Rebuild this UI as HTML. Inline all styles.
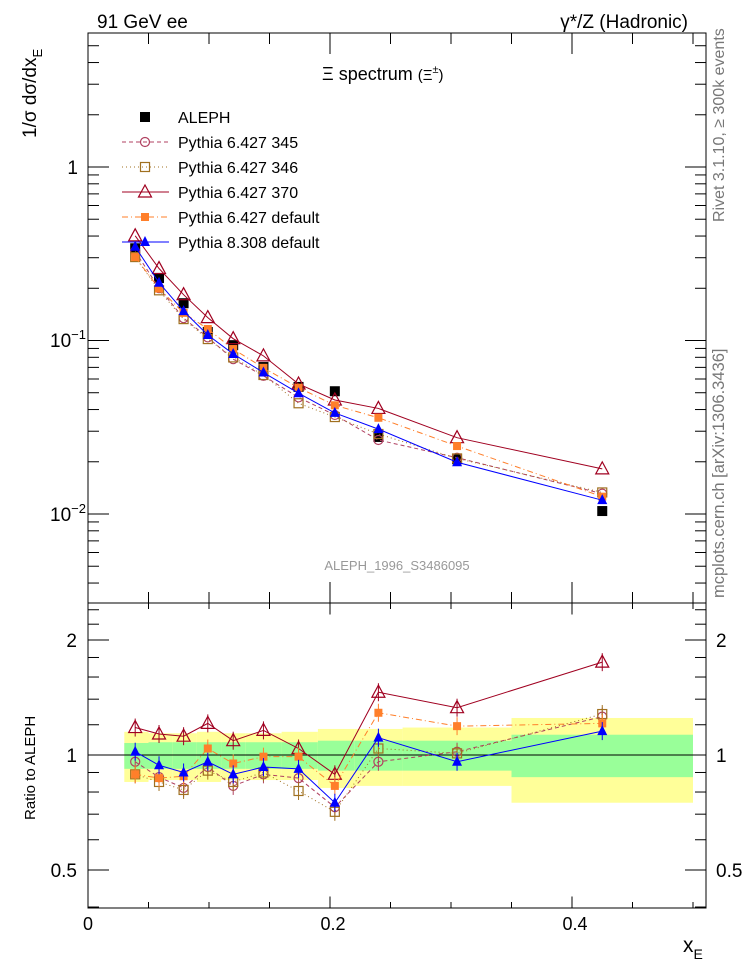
<!DOCTYPE html>
<html><head><meta charset="utf-8"><style>
html,body{margin:0;padding:0;background:#fff;}
svg{display:block;font-family:"Liberation Sans",sans-serif;}
</style></head><body>
<svg id="chart" width="746" height="972" viewBox="0 0 746 972" xmlns="http://www.w3.org/2000/svg">
<g id="bands"></g>
<g id="frames"></g>
<g id="ticks"></g>
<g id="series"></g>
<g id="labels">
<text x="97" y="28" font-size="19">91 GeV ee</text>
<text x="688" y="28" font-size="19" text-anchor="end">γ*/Z (Hadronic)</text>
<text x="322" y="80" font-size="18">Ξ spectrum <tspan font-size="15">(Ξ</tspan><tspan font-size="11" dy="-7">±</tspan><tspan font-size="15" dy="7">)</tspan></text>
<text x="397" y="570" font-size="13" fill="#999" text-anchor="middle">ALEPH_1996_S3486095</text>
<text transform="translate(36,138) rotate(-90)" font-size="19">1/σ dσ/dx<tspan font-size="13" dy="6">E</tspan></text>
<text transform="translate(35,820) rotate(-90)" font-size="15">Ratio to ALEPH</text>
<text x="683" y="952" font-size="21">x<tspan font-size="14" dy="7">E</tspan></text>
<text transform="translate(724,222) rotate(-90)" font-size="16" fill="#777">Rivet 3.1.10, ≥ 300k events</text>
<text transform="translate(724,598) rotate(-90)" font-size="16.5" fill="#777">mcplots.cern.ch [arXiv:1306.3436]</text>
</g>
<g id="legend"></g>
</svg>
<script>
const xs = [0.039,0.0587,0.079,0.099,0.12,0.145,0.174,0.204,0.24,0.305,0.425];
const binEdges = [0.03,0.05,0.07,0.09,0.11,0.13,0.16,0.19,0.22,0.26,0.35,0.5];
const aleph = [0.34,0.229,0.164,0.112,0.094,0.0703,0.054,0.051,0.0278,0.0207,0.0104];
const yellowLo = [0.85,0.86,0.86,0.85,0.86,0.86,0.86,0.82,0.83,0.83,0.75];
const yellowHi = [1.15,1.14,1.14,1.15,1.14,1.14,1.15,1.17,1.17,1.18,1.25];
const greenLo = [0.92,0.92,0.92,0.92,0.92,0.92,0.92,0.91,0.91,0.91,0.875];
const greenHi = [1.075,1.08,1.08,1.08,1.08,1.08,1.08,1.09,1.09,1.09,1.13];
const r345 = [0.96,0.875,0.82,0.93,0.83,0.89,0.87,0.73,0.96,1.02,1.26];
const r346 = [0.89,0.85,0.81,0.91,0.85,0.90,0.805,0.71,1.04,1.01,1.28];
const r370 = [1.18,1.135,1.12,1.21,1.09,1.16,1.04,0.89,1.46,1.33,1.75];
const rDef = [0.89,0.87,0.88,1.04,0.95,0.99,0.99,0.83,1.29,1.19,1.21];
const rP8 = [1.02,0.94,0.90,0.96,0.89,0.93,0.92,0.75,1.11,0.96,1.155];
const xTicks = ["0","0.2","0.4"];

const NS="http://www.w3.org/2000/svg";
function el(tag,attrs,parent){const e=document.createElementNS(NS,tag);for(const k in attrs)e.setAttribute(k,attrs[k]);parent.appendChild(e);return e;}
const L=88,R=706,T=33,M=603,B=908;
const X=v=>88+v*1210;
const Y=v=>167-Math.log10(v)*173.5;
const YR=v=>755-Math.log2(v)*115;

const gb=document.getElementById('bands');
for(let i=0;i<binEdges.length-1;i++){
  const x0=X(binEdges[i]),x1=X(binEdges[i+1]);
  const ry=el('rect',{x:x0,y:YR(yellowHi[i]),width:x1-x0,height:YR(yellowLo[i])-YR(yellowHi[i]),fill:'#ffff99'},gb);
  
  
  const rg=el('rect',{x:x0,y:YR(greenHi[i]),width:x1-x0,height:YR(greenLo[i])-YR(greenHi[i]),fill:'#99ff99'},gb);
  
  
}
const fr=document.getElementById('frames');
const f1=el('rect',{x:L,y:T,width:R-L,height:M-T,fill:'none',stroke:'#000','stroke-width':1},fr);


const f2=el('rect',{x:L,y:M,width:R-L,height:B-M,fill:'none',stroke:'#000','stroke-width':1},fr);


const one=el('line',{x1:L,x2:R,y1:YR(1),y2:YR(1),stroke:'#000','stroke-width':1},fr);



const tk=document.getElementById('ticks');
function tline(x1,y1,x2,y2){el('line',{x1,y1,x2,y2,stroke:'#000','stroke-width':1},tk);}
for(let k=0;k<=10;k++){
  const v=k*0.05; const x=X(v); if(x>R) break;
  const len=(k%4===0)?21:11;
  tline(x,T,x,T+len); tline(x,M,x,M-len); tline(x,M,x,M+len*0.55); tline(x,B,x,B-len*0.55);
}
xTicks.forEach((t,i)=>{const tx=el('text',{x:X(i*0.2)+(i?3:0),y:930,'font-size':18,'text-anchor':'middle'},document.getElementById('labels'));tx.textContent=t;
  
  });
for(let d=-3;d<=0;d++){for(let m=1;m<=9;m++){const v=m*Math.pow(10,d);const y=Y(v);if(y<T||y>M)continue;const len=m===1?21:11;tline(L,y,L+len,y);tline(R,y,R-len,y);}}
const ratioT=[0.4,0.5,0.6,0.7,0.8,0.9,1,1.2,1.4,1.6,1.8,2,2.2,2.4];
ratioT.forEach(v=>{const y=YR(v);const len=(v===0.5||v===1||v===2)?21:11;tline(L,y,L+len,y);tline(R,y,R-len,y);});
const lab=document.getElementById('labels');
[["1",167],["10",340,"−1"],["10",514,"−2"]].forEach(a=>{const t=el('text',{x:78,y:a[1]+7,'font-size':19,'text-anchor':'end'},lab);
  
  
  if(a[2]){t.setAttribute('x',50);t.setAttribute('text-anchor','start');t.innerHTML=a[0]+'<tspan font-size="13" dy="-8">'+a[2]+'</tspan>';}else t.textContent=a[0];});
[["2",2],["1",1],["0.5",0.5]].forEach(a=>{[77,716].forEach((x,j)=>{const t=el('text',{x:x,y:YR(a[1])+7,'font-size':19,'text-anchor':j?'start':'end'},lab);t.textContent=a[0];
  
  });});

const sg=document.getElementById('series');
function marker(g,type,x,y,c){
  if(type==='sq') el('rect',{x:x-5,y:y-5,width:10,height:10,fill:c},g);
  else if(type==='osq') el('rect',{x:x-4.5,y:y-4.5,width:9,height:9,fill:'none',stroke:c,'stroke-width':1.2},g);
  else if(type==='fsq') el('rect',{x:x-4,y:y-4,width:8,height:8,fill:c},g);
  else if(type==='oc') el('circle',{cx:x,cy:y,r:4.5,fill:'none',stroke:c,'stroke-width':1.2},g);
  else if(type==='ot') el('path',{d:`M${x},${y-7}L${x+6.5},${y+5}L${x-6.5},${y+5}Z`,fill:'none',stroke:c,'stroke-width':1.2},g);
  else if(type==='ft') el('path',{d:`M${x},${y-6}L${x+5},${y+4}L${x-5},${y+4}Z`,fill:c},g);
}
const models=[
 {name:'pythia-6427-345',r:r345,c:'#b04060',m:'oc',dash:'4,3',label:'Pythia 6.427 345'},
 {name:'pythia-6427-346',r:r346,c:'#a07020',m:'osq',dash:'1,3',label:'Pythia 6.427 346'},
 {name:'pythia-6427-370',r:r370,c:'#a00020',m:'ot',dash:'',label:'Pythia 6.427 370'},
 {name:'pythia-6427-default',r:rDef,c:'#ff7f2a',m:'fsq',dash:'6,3,1,3',label:'Pythia 6.427 default'},
 {name:'pythia-8308-default',r:rP8,c:'#0000ff',m:'ft',dash:'',label:'Pythia 8.308 default'}
];
const ga=el('g',{},sg);


xs.forEach((x,i)=>marker(ga,'sq',X(x),Y(aleph[i]),'#000'));
models.forEach(md=>{
  const g=el('g',{},sg);
  
  
  const pm=xs.map((x,i)=>X(x)+','+Y(aleph[i]*md.r[i])).join(' ');
  const pr=xs.map((x,i)=>X(x)+','+YR(md.r[i])).join(' ');
  const a={fill:'none',stroke:md.c,'stroke-width':1};if(md.dash)a['stroke-dasharray']=md.dash;
  el('polyline',Object.assign({points:pm},a),g);
  el('polyline',Object.assign({points:pr},a),g);
  xs.forEach((x,i)=>{marker(g,md.m,X(x),Y(aleph[i]*md.r[i]),md.c);
    const y=YR(md.r[i]);el('line',{x1:X(x),x2:X(x),y1:y-9,y2:y+9,stroke:md.c,'stroke-width':1},g);
    marker(g,md.m,X(x),y,md.c);});
});

const lg=document.getElementById('legend');
const le=el('g',{},lg);


marker(le,'sq',145,117,'#000');
const lt=el('text',{x:178,y:123,'font-size':16},le);lt.textContent='ALEPH';
models.forEach((md,k)=>{
  const y=142+k*25;
  const g=el('g',{},lg);
  
  
  const a={x1:122,x2:169,y1:y,y2:y,stroke:md.c,'stroke-width':1};if(md.dash)a['stroke-dasharray']=md.dash;
  el('line',a,g);
  marker(g,md.m,145,y,md.c);
  const t=el('text',{x:178,y:y+6,'font-size':16},g);t.textContent=md.label;
});
</script>
</body></html>
